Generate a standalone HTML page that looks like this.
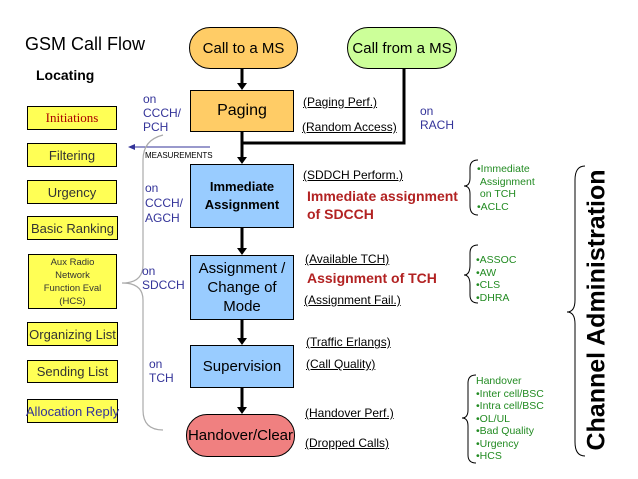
<!DOCTYPE html>
<html><head><style>
body{margin:0;width:638px;height:479px;background:#fff;position:relative;overflow:hidden;font-family:"Liberation Sans",sans-serif}
.a{position:absolute;box-sizing:border-box;display:flex;align-items:center;justify-content:center;text-align:center;white-space:nowrap}
.y{background:#ffff55;border:1px solid #000;font-size:13px;color:#333}
.b{background:#99ccff;border:1px solid #000;font-size:14px;color:#000}
.t{position:absolute;white-space:nowrap}
.u{position:absolute;white-space:nowrap;font-size:12px;text-decoration:underline;color:#000}
.bl{position:absolute;color:#333399;font-size:12px;line-height:14px}
.g{position:absolute;color:#228b22;font-size:10.5px;line-height:12.5px;white-space:nowrap}
</style></head><body>
<svg width="638" height="479" style="position:absolute;left:0;top:0">
<g stroke="#000" stroke-width="3" fill="none">
<line x1="242" y1="69" x2="242" y2="84"/>
<line x1="242" y1="132" x2="242" y2="158"/>
<polyline points="242,143 404,143 404,69"/>
<line x1="242" y1="228" x2="242" y2="249"/>
<line x1="242" y1="320" x2="242" y2="339"/>
<line x1="242" y1="388" x2="242" y2="408"/>
</g>
<g fill="#000">
<polygon points="237,83 247,83 242,90"/>
<polygon points="237,157 247,157 242,164"/>
<polygon points="237,248 247,248 242,255"/>
<polygon points="237,338 247,338 242,345"/>
<polygon points="237,407 247,407 242,414"/>
</g>
<line x1="210" y1="147" x2="132" y2="147" stroke="#333399" stroke-width="1"/>
<polygon points="128,147 135,144 135,150" fill="#333399"/>
<path d="M163,135 Q143,140 143,160 L143,265 Q143,283 122,283 Q143,283 143,300 L143,410 Q143,430 163,430" stroke="#aaa" stroke-width="1.2" fill="none"/>
<g stroke="#000" stroke-width="1" fill="none">
<path d="M478,160 Q470,160 470,168 L470,178 Q470,186 464,186 Q470,186 470,194 L470,206 Q470,215 478,215"/>
<path d="M478,245 Q470,245 470,253 L470,265 Q470,275 464,275 Q470,275 470,285 L470,295 Q470,303 478,303"/>
<path d="M476,375 Q468,375 468,383 L468,410 Q468,418 462,418 Q468,418 468,426 L468,455 Q468,463 476,463"/>
<path d="M585,166 Q575,166 575,180 L575,300 Q575,312 567,312 Q575,312 575,324 L575,442 Q575,456 585,456"/>
</g>
</svg>
<div class="t" style="left:25px;top:34px;font-size:18px">GSM Call Flow</div>
<div class="t" style="left:36px;top:67px;font-size:14px;font-weight:bold">Locating</div>
<div class="a" style="left:189px;top:27px;width:109px;height:42px;background:#ffcc66;border:1px solid #000;border-radius:21px;font-size:15px">Call to a MS</div>
<div class="a" style="left:347px;top:27px;width:110px;height:42px;background:#ccff99;border:1px solid #000;border-radius:21px;font-size:15px">Call from a MS</div>
<div class="a" style="left:190px;top:90px;width:104px;height:42px;background:#ffcc66;border:1px solid #000;font-size:16px">Paging</div>
<div class="a b" style="left:190px;top:164px;width:104px;height:64px;font-weight:bold;font-size:13px;line-height:18px">Immediate<br>Assignment</div>
<div class="a b" style="left:190px;top:255px;width:104px;height:65px;line-height:19px;font-size:15px">Assignment /<br>Change of<br>Mode</div>
<div class="a b" style="left:190px;top:345px;width:104px;height:43px;font-size:15px">Supervision</div>
<div class="a" style="left:186px;top:414px;width:109px;height:43px;background:#f08080;border:1px solid #000;border-radius:21px;font-size:15px">Handover/Clear</div>
<div class="a y" style="left:27px;top:106px;width:90px;height:24px;font-family:'Liberation Serif',serif;color:#a00">Initiations</div>
<div class="a y" style="left:27px;top:143px;width:90px;height:24px">Filtering</div>
<div class="a y" style="left:27px;top:180px;width:90px;height:24px">Urgency</div>
<div class="a y" style="left:27px;top:216px;width:91px;height:24px">Basic Ranking</div>
<div class="a y" style="left:28px;top:254px;width:89px;height:55px;font-size:9.5px;line-height:13px">Aux Radio<br>Network<br>Function Eval<br>(HCS)</div>
<div class="a y" style="left:27px;top:322px;width:91px;height:24px">Organizing List</div>
<div class="a y" style="left:27px;top:360px;width:91px;height:23px">Sending List</div>
<div class="a y" style="left:27px;top:399px;width:91px;height:24px;color:#333399">Allocation Reply</div>
<div class="bl" style="left:143px;top:92px">on<br>CCCH/<br>PCH</div>
<div class="t" style="left:145px;top:151px;font-size:8px">MEASUREMENTS</div>
<div class="bl" style="left:145px;top:181px;line-height:15px">on<br>CCCH/<br>AGCH</div>
<div class="bl" style="left:142px;top:264px">on<br>SDCCH</div>
<div class="bl" style="left:149px;top:357px">on<br>TCH</div>
<div class="bl" style="left:420px;top:104px">on<br>RACH</div>
<div class="u" style="left:303px;top:95px">(Paging Perf.)</div>
<div class="u" style="left:302px;top:120px">(Random Access)</div>
<div class="u" style="left:303px;top:168px">(SDDCH Perform.)</div>
<div class="t" style="left:307px;top:187px;font-size:14px;font-weight:bold;color:#b22222;line-height:18px">Immediate assignment<br>of SDCCH</div>
<div class="u" style="left:305px;top:252px">(Available TCH)</div>
<div class="t" style="left:307px;top:270px;font-size:14px;font-weight:bold;color:#b22222">Assignment of TCH</div>
<div class="u" style="left:304px;top:293px">(Assignment Fail.)</div>
<div class="u" style="left:306px;top:335px">(Traffic Erlangs)</div>
<div class="u" style="left:306px;top:357px">(Call Quality)</div>
<div class="u" style="left:305px;top:406px">(Handover Perf.)</div>
<div class="u" style="left:305px;top:436px">(Dropped Calls)</div>
<div class="g" style="left:477px;top:163px">•Immediate<br>&nbsp;Assignment<br>&nbsp;on TCH<br>•ACLC</div>
<div class="g" style="left:476px;top:254px">•ASSOC<br>•AW<br>•CLS<br>•DHRA</div>
<div class="g" style="left:476px;top:375px">Handover<br>•Inter cell/BSC<br>•Intra cell/BSC<br>•OL/UL<br>•Bad Quality<br>•Urgency<br>•HCS</div>
<div class="t" style="left:597px;top:310px;font-size:25px;font-weight:bold;transform:translate(-50%,-50%) rotate(-90deg)">Channel Administration</div>
</body></html>
